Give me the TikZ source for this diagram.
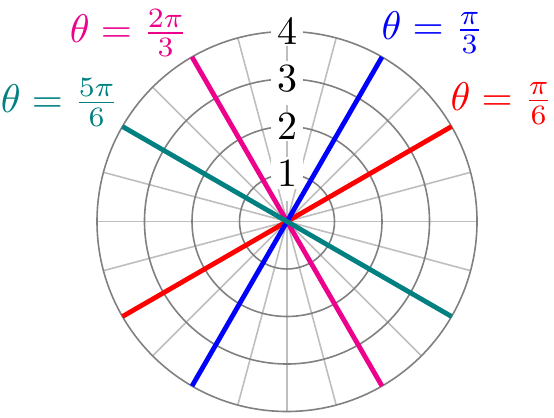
\documentclass[tikz,border=0pt]{standalone}
\definecolor{cmag}{RGB}{236,0,140}
\definecolor{cteal}{RGB}{0,128,128}
\definecolor{gridc}{RGB}{128,128,128}
\definecolor{radc}{RGB}{190,190,190}
\begin{document}
\begin{tikzpicture}[x=0.25pt,y=0.25pt,
  circ/.style={draw=gridc,line width=0.4pt},
  rad/.style={draw=radc,line width=0.4pt},
  ray/.style={line width=1.2pt},
  tick/.style={fill=white,inner xsep=1.5pt,inner ysep=0.5pt,font=\normalsize},
  lab/.style={inner sep=0pt}]
\useasboundingbox (-287,-195.5) rectangle (267,221.5);
\coordinate (O) at (0,0);
% radial grid
\foreach \a in {0,15,...,345}{
  \ifnum\a=90\else
  \draw[rad] (O) -- (\a:190);
  \fi
}
\draw[rad,line width=0.5pt,dash pattern=on 5 off 3] (O) -- (90:190);
% circles
\foreach \r in {1,2,3,4}{
  \draw[circ] (O) circle[radius=47.5*\r];
}
% colored lines
\draw[ray,red] (210:190) -- (30:190);
\draw[ray,cmag] (300:190) -- (120:190);
\draw[ray,blue] (240:190) -- (60:190);
\draw[ray,cteal] (330:190) -- (150:190);
% tick labels
\foreach \r in {1,2,3,4}{
  \node[tick] (t\r) at (0,47.5*\r) {$\r$};
}
% theta labels
\node[lab,text=cmag] (l2) at (-158,188.5) {$\theta=\frac{2\pi}{3}$};
\node[lab,text=blue] (l1) at (146,188.5) {$\theta=\frac{\pi}{3}$};
\node[lab,text=cteal] (l5) at (-227,119) {$\theta=\frac{5\pi}{6}$};
\node[lab,text=red] (l6) at (215,118) {$\theta=\frac{\pi}{6}$};
\end{tikzpicture}
\end{document}
